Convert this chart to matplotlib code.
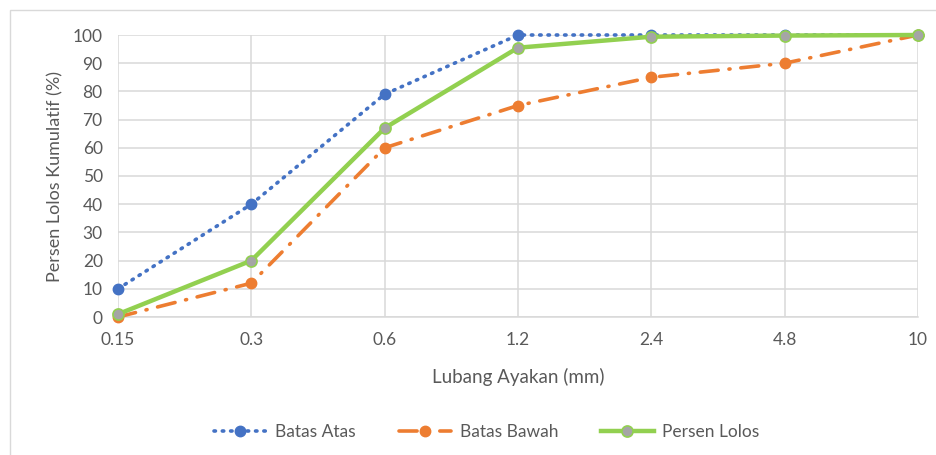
import matplotlib
matplotlib.use("Agg")
import matplotlib.pyplot as plt
from matplotlib.patches import Rectangle

# Data gradasi agregat halus
ukuran_ayakan = ["0.15", "0.3", "0.6", "1.2", "2.4", "4.8", "10"]
batas_atas = [10, 40, 79, 100, 100, 100, 100]
batas_bawah = [0, 12, 60, 75, 85, 90, 100]
persen_lolos = [1, 20, 67, 95.5, 99.4, 99.8, 100]

plt.rcParams["font.family"] = ["Lato", "DejaVu Sans"]
text_color = "#595959"
grid_color = "#d9d9d9"

W, H = 936, 455
fig = plt.figure(figsize=(W / 100, H / 100), dpi=100)

# chart frame
fig.patches.append(Rectangle((10 / W, -0.1), 1.1, 1 - 10 / H + 0.1,
                             transform=fig.transFigure, fill=False,
                             edgecolor=grid_color, lw=1.0))

ax = fig.add_axes([118 / W, 1 - 317 / H, 800 / W, 282 / H])
x = range(len(ukuran_ayakan))

ax.plot(x, batas_atas, color="#4472C4", lw=2.6, linestyle=(0, (0.4, 1.9)),
        dash_capstyle="round", marker="o", markersize=7.5, label="Batas Atas",
        zorder=3, clip_on=False)
ax.plot(x, batas_bawah, color="#ED7D31", lw=2.6,
        linestyle=(0, (5, 3, 0.3, 3)), dash_capstyle="round", marker="o",
        markersize=7.5, label="Batas Bawah", zorder=3, clip_on=False)
ax.plot(x, persen_lolos, color="#92D050", lw=3.2, marker="o", markersize=8,
        markerfacecolor="#A5A5A5", markeredgecolor="#92D050",
        markeredgewidth=1.2, label="Persen Lolos", zorder=4, clip_on=False)

ax.set_xlim(0, len(ukuran_ayakan) - 1)
ax.set_ylim(0, 100)
ax.set_xticks(list(x))
ax.set_xticklabels(ukuran_ayakan)
ax.set_yticks(range(0, 101, 10))
ax.grid(True, color=grid_color, lw=1.1)
ax.set_axisbelow(True)
for side in ["top", "right", "left"]:
    ax.spines[side].set_visible(False)
ax.spines["bottom"].set_color(grid_color)
ax.spines["bottom"].set_linewidth(1.1)
ax.tick_params(length=0, labelsize=12.5, colors=text_color)
ax.tick_params(axis="x", pad=11)
ax.tick_params(axis="y", pad=11)

ax.set_xlabel("Lubang Ayakan (mm)", fontsize=13.5, color=text_color,
              labelpad=14)
ax.set_ylabel("Persen Lolos Kumulatif (%)", fontsize=13, color=text_color,
              labelpad=7)

fig.legend(loc="center", bbox_to_anchor=(0.52, 1 - 432 / H), ncol=3,
           frameon=False, fontsize=12.5, labelcolor=text_color,
           handlelength=3.0, columnspacing=2.5, handletextpad=0.5)

fig.savefig("out.png", dpi=100)
